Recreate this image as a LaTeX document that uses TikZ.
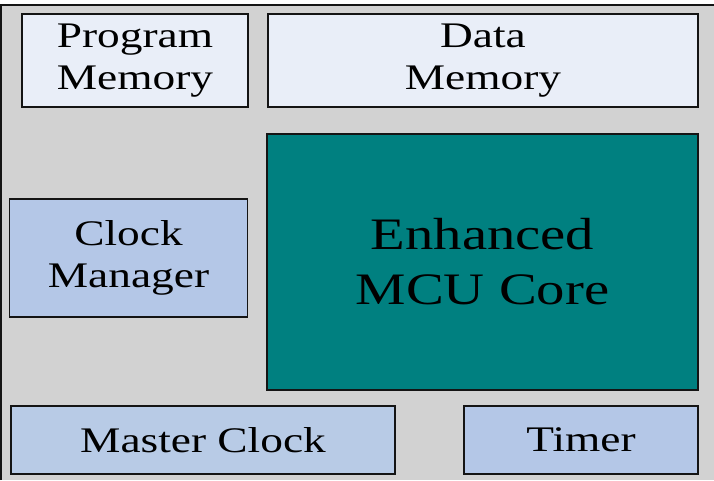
\documentclass[tikz,border=0pt]{standalone}
\usepackage{fontspec}
\setmainfont{Liberation Serif}
\newfontfamily\wide[FakeStretch=1.26]{Liberation Serif}
\definecolor{bggray}{HTML}{D2D2D2}
\definecolor{memfill}{HTML}{E9EEF8}
\definecolor{clkfill}{HTML}{B4C7E7}
\definecolor{mclkfill}{HTML}{B8CBE6}
\definecolor{corefill}{HTML}{008080}
\definecolor{edge}{HTML}{141414}
\tikzset{
  blockbox/.style={draw=edge, line width=1.5pt, inner sep=0pt, outer sep=0pt,
    align=center, text=black, font=\wide\fontsize{36}{42}\selectfont},
  membox/.style={blockbox, fill=memfill},
  clkbox/.style={blockbox, fill=clkfill},
  corebox/.style={blockbox, fill=corefill, font=\wide\fontsize{45}{55}\selectfont}
}
\begin{document}
\begin{tikzpicture}[x=1pt, y=-1pt]
  \useasboundingbox (0,0) rectangle (714,480);
  \fill[white] (0,0) rectangle (714,480);
  \fill[bggray] (1,5) rectangle (714,480);
  \draw[edge, line width=2pt] (1,480) -- (1,5) -- (714,5);
  \node[membox, minimum width=226, minimum height=93] (pm) at (135,60.5) {Program\\Memory};
  \node[membox, minimum width=430, minimum height=93] (dm) at (483,60.5) {Data\\Memory};
  \node[corebox, minimum width=431, minimum height=256] (core) at (482.5,262) {Enhanced\\MCU Core};
  \node[clkbox, minimum width=238, minimum height=118] (cm) at (128.5,258) {Clock\\Manager};
  \node[blockbox, fill=mclkfill, minimum width=384, minimum height=68] (mc) at (203,440) {Master Clock};
  \node[clkbox, minimum width=234, minimum height=68] (tm) at (581,440) {Timer};
\end{tikzpicture}
\end{document}
